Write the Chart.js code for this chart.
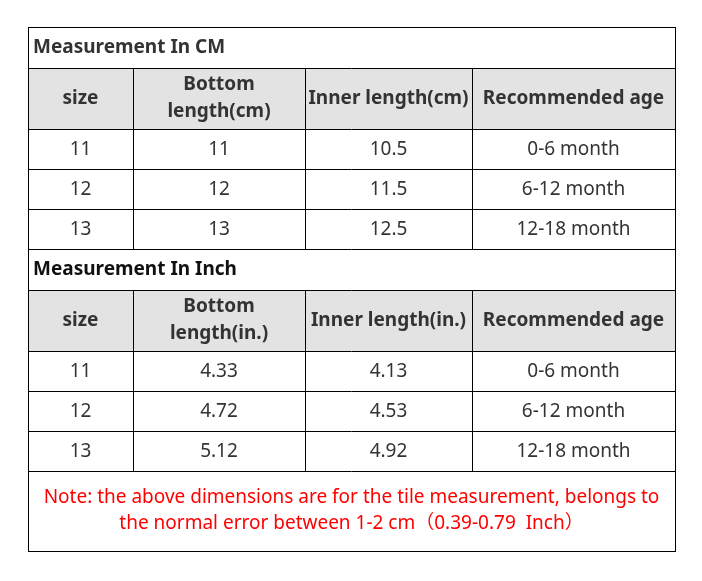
<!DOCTYPE html>
<html>
<head>
<meta charset="utf-8">
<script src="https://cdn.jsdelivr.net/npm/chart.js@4/dist/chart.umd.min.js"></script>
<style>
  html, body { margin: 0; padding: 0; background: #fff; }
  #wrap { width: 702px; height: 581px; }
</style>
</head>
<body>
<div id="wrap"><canvas id="myChart" width="702" height="581"></canvas></div>
<script>
// Table content
const cmTitle = 'Measurement In CM';
const cmHeaders = [['size'], ['Bottom', 'length(cm)'], ['Inner length(cm)'], ['Recommended age']];
const sizes = ['11', '12', '13'];
const bottomCm = ['11', '12', '13'];
const innerCm = ['10.5', '11.5', '12.5'];
const ages = ['0-6 month', '6-12 month', '12-18 month'];

const inchTitle = 'Measurement In Inch';
const inchHeaders = [['size'], ['Bottom', 'length(in.)'], ['Inner length(in.)'], ['Recommended age']];
const bottomIn = ['4.33', '4.72', '5.12'];
const innerIn = ['4.13', '4.53', '4.92'];

const noteLines = [
  'Note: the above dimensions are for the tile measurement, belongs to',
  'the normal error between 1-2 cm\uFF080.39-0.79  Inch\uFF09'
];

// Layout (in scale units = pixels)
const colEdges = [28, 133, 305, 472, 675];
const tableTop = 27, tableBottom = 551;
const FONT = '"Noto Sans", "Noto Sans CJK SC", sans-serif';

const tablePlugin = {
  id: 'sizeTable',
  afterDraw(chart) {
    const ctx = chart.ctx;
    const sx = chart.scales.x, sy = chart.scales.y;
    const X = v => sx.getPixelForValue(v);
    const Y = v => sy.getPixelForValue(v);

    function hline(y, x0, x1) {
      ctx.beginPath();
      ctx.moveTo(X(x0), Y(y) + 0.5);
      ctx.lineTo(X(x1), Y(y) + 0.5);
      ctx.stroke();
    }
    function vline(x, y0, y1) {
      ctx.beginPath();
      ctx.moveTo(X(x) + 0.5, Y(y0));
      ctx.lineTo(X(x) + 0.5, Y(y1));
      ctx.stroke();
    }

    function section(top, title, titleColor, headers, cols) {
      const titleBottom = top + 41;
      const headBottom = titleBottom + 61;
      const rowH = 40;

      // header background
      ctx.fillStyle = '#e3e3e3';
      ctx.fillRect(X(colEdges[0]), Y(titleBottom), X(colEdges[4]) - X(colEdges[0]), Y(headBottom) - Y(titleBottom));

      ctx.strokeStyle = '#000';
      ctx.lineWidth = 1;
      hline(titleBottom, colEdges[0], colEdges[4]);
      hline(headBottom, colEdges[0], colEdges[4]);
      for (let r = 1; r <= 3; r++) hline(headBottom + r * rowH, colEdges[0], colEdges[4]);
      for (let c = 1; c < 4; c++) vline(colEdges[c], titleBottom, headBottom + 3 * rowH);

      // title
      ctx.fillStyle = titleColor;
      ctx.font = 'bold 19px ' + FONT;
      ctx.textAlign = 'left';
      ctx.textBaseline = 'middle';
      ctx.fillText(title, X(33), Y((top + titleBottom) / 2));

      // headers
      ctx.fillStyle = '#333';
      ctx.textAlign = 'center';
      headers.forEach((lines, c) => {
        const cx = (colEdges[c] + colEdges[c + 1]) / 2;
        const cy = (titleBottom + headBottom) / 2;
        lines.forEach((t, i) => {
          const off = (i - (lines.length - 1) / 2) * 27;
          ctx.fillText(t, X(cx), Y(cy + off));
        });
      });

      // body
      ctx.font = '19px ' + FONT;
      ctx.fillStyle = '#333';
      cols.forEach((col, c) => {
        const cx = (colEdges[c] + colEdges[c + 1]) / 2;
        col.forEach((t, r) => {
          ctx.fillText(t, X(cx), Y(headBottom + r * rowH + rowH / 2 + 1));
        });
      });
      return headBottom + 3 * rowH;
    }

    ctx.save();
    const end1 = section(tableTop, cmTitle, '#333', cmHeaders, [sizes, bottomCm, innerCm, ages]);
    const end2 = section(end1, inchTitle, '#111', inchHeaders, [sizes, bottomIn, innerIn, ages]);

    // note
    ctx.fillStyle = '#f00';
    ctx.font = '19px ' + FONT;
    ctx.textAlign = 'center';
    ctx.textBaseline = 'middle';
    const mid = (colEdges[0] + colEdges[4]) / 2;
    ctx.fillText(noteLines[0], X(mid), Y(end2 + 27));
    ctx.fillText(noteLines[1], X(mid), Y(end2 + 53));

    // outer border
    ctx.strokeStyle = '#000';
    ctx.strokeRect(X(colEdges[0]) + 0.5, Y(tableTop) + 0.5, X(colEdges[4]) - X(colEdges[0]), Y(tableBottom) - Y(tableTop));
    ctx.restore();
  }
};

const ctx = document.getElementById('myChart').getContext('2d');
const myChart = new Chart(ctx, {
  type: 'scatter',
  data: { datasets: [{ data: [] }] },
  options: {
    responsive: false,
    animation: false,
    devicePixelRatio: 1,
    layout: { padding: 0 },
    plugins: { legend: { display: false }, tooltip: { enabled: false } },
    scales: {
      x: { type: 'linear', min: 0, max: 702, display: false },
      y: { type: 'linear', min: 0, max: 581, reverse: true, display: false }
    }
  },
  plugins: [tablePlugin]
});
</script>
</body>
</html>
